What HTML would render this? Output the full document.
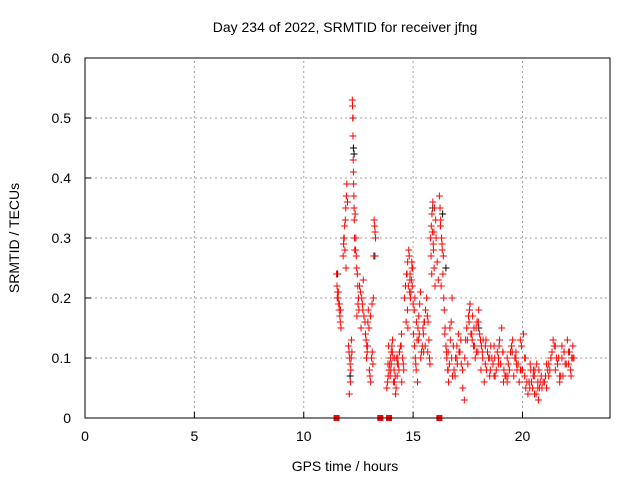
<!DOCTYPE html>
<html><head><meta charset="utf-8"><style>
body{margin:0;background:#fff}
svg{font-family:"Liberation Sans",sans-serif;font-size:14px}
</style></head><body>
<svg width="640" height="480" xmlns="http://www.w3.org/2000/svg">
<g id="grid"></g>
<g id="axes"></g>
<g id="black"></g>
<g id="red"></g>
<rect x="85" y="58" width="525" height="360" fill="none" stroke="#000"/>
<text x="345" y="32" text-anchor="middle">Day 234 of 2022, SRMTID for receiver jfng</text>
<text x="345" y="471" text-anchor="middle">GPS time / hours</text>
<text transform="translate(19,238) rotate(-90)" text-anchor="middle">SRMTID / TECUs</text>
</svg>
<script>
const xTicks=[0,5,10,15,20];
const yTicks=[0,0.1,0.2,0.3,0.4,0.5,0.6];
const yTickLabels=["0","0.1","0.2","0.3","0.4","0.5","0.6"];
const zeroTimes=[11.5,13.5,13.9,16.2];
const times=[
11.5,11.52,11.55,11.57,11.6,11.62,11.65,11.67,11.7,11.53,11.58,11.63,11.68,
11.8,11.82,11.85,11.87,11.9,11.92,11.95,11.97,12.0,11.83,11.88,11.93,
12.05,12.07,12.1,12.12,12.15,12.17,12.2,12.08,12.13,12.18,
12.22,12.23,12.24,12.25,12.26,12.27,12.28,12.29,12.3,12.31,12.32,12.33,
12.35,12.38,12.4,12.42,12.45,12.47,12.5,12.52,12.43,12.48,12.37,
12.55,12.6,12.65,12.7,12.75,12.8,12.62,12.68,12.72,
12.82,12.85,12.88,12.9,12.93,12.95,12.98,12.87,12.92,
13.0,13.03,13.06,13.1,13.13,13.16,13.05,13.12,13.18,
13.22,13.24,13.26,13.28,13.2,
13.8,13.83,13.86,13.9,13.93,13.96,14.0,14.03,14.06,14.1,14.13,14.16,14.2,
14.22,14.27,14.32,14.37,14.42,14.47,14.52,14.57,
14.6,14.65,14.7,14.75,14.8,14.85,14.9,14.95,15.0,14.68,
15.02,15.06,15.1,15.14,15.18,15.22,15.26,15.3,15.34,15.38,15.12,
15.42,15.47,15.52,15.57,15.62,15.67,15.72,15.77,
15.8,15.83,15.86,15.9,15.93,15.96,16.0,16.03,
16.2,16.23,16.26,16.3,16.33,16.36,16.4,16.28,
16.42,16.46,16.5,16.54,16.58,16.62,16.66,16.7,16.74,16.78,
16.8,16.87,16.94,17.0,17.07,17.14,17.2,17.27,17.34,17.4,
17.45,17.53,17.6,17.68,17.76,17.84,17.92,18.0,18.08,18.16,
18.25,18.35,18.45,18.55,18.65,18.75,18.85,18.95,19.05,19.15,
19.25,19.35,19.45,19.55,19.65,19.75,19.85,19.95,20.05,20.15,
20.25,20.33,20.41,20.49,20.57,20.65,20.73,20.81,20.89,
21.0,21.15,21.3,21.45,21.6,21.75,21.9,22.05,22.2,22.3,
17.5,17.7,17.9,18.1,18.3,18.5,18.7,18.9,19.1,19.3,19.5,19.7,19.9,20.1,20.3,20.5,20.7,21.1,21.3,21.5,21.7,21.9,22.1,22.25,
14.0,14.3,15.2,15.5,16.6,17.0,19.0,20.0,21.2,21.8,
13.85,13.95,14.05,14.15,14.25,14.35,14.45,14.55,13.88,13.98,14.08,14.18,14.28,14.38,14.48,
14.72,14.78,14.82,14.88,14.92,14.98,14.74,14.84,14.94,14.76,14.86,14.96,
15.05,15.15,15.25,15.35,15.45,15.55,15.65,15.75,15.08,15.28,15.48,15.68,
15.82,15.88,15.92,15.98,16.05,16.1,16.15,16.25,16.32,16.38,15.85,15.95,
16.45,16.52,16.6,16.68,16.76,16.84,16.92,17.02,17.1,17.18,17.26,17.36,
17.48,17.56,17.64,17.72,17.8,17.88,17.96,18.04,18.12,18.2,17.58,17.78,17.98,18.18,
18.3,18.4,18.5,18.6,18.7,18.8,18.9,19.0,19.1,19.2,18.33,18.53,18.73,18.93,19.13,
19.3,19.4,19.5,19.6,19.7,19.8,19.9,20.0,20.1,20.2,19.33,19.53,19.73,19.93,20.13,
20.3,20.38,20.46,20.54,20.62,20.7,20.78,20.86,20.94,20.35,20.55,20.75,
21.05,21.2,21.35,21.5,21.65,21.8,21.95,22.1,22.22,22.35,21.1,21.4,21.7,22.0,22.3,21.25,21.55,21.85,22.15
];
const srmtid=[
0.24,0.22,0.21,0.2,0.19,0.18,0.17,0.16,0.15,0.2,0.21,0.19,0.18,
0.27,0.29,0.3,0.32,0.33,0.35,0.37,0.39,0.36,0.3,0.28,0.25,
0.12,0.11,0.1,0.09,0.08,0.1,0.11,0.04,0.06,0.13,
0.53,0.52,0.5,0.47,0.43,0.41,0.39,0.37,0.35,0.33,0.3,0.28,
0.34,0.3,0.27,0.25,0.24,0.22,0.2,0.18,0.17,0.19,0.28,
0.22,0.21,0.2,0.18,0.17,0.16,0.15,0.19,0.23,
0.14,0.13,0.12,0.11,0.16,0.18,0.15,0.1,0.12,
0.08,0.07,0.06,0.1,0.11,0.09,0.17,0.19,0.2,
0.33,0.32,0.31,0.3,0.27,
0.05,0.06,0.07,0.08,0.09,0.1,0.11,0.12,0.13,0.06,0.08,0.1,0.04,
0.05,0.07,0.09,0.11,0.12,0.14,0.1,0.08,
0.2,0.22,0.24,0.26,0.28,0.23,0.21,0.25,0.19,0.16,
0.14,0.12,0.1,0.08,0.13,0.15,0.17,0.19,0.21,0.11,0.09,
0.12,0.14,0.16,0.18,0.2,0.11,0.13,0.09,
0.3,0.32,0.34,0.36,0.28,0.25,0.22,0.33,
0.37,0.35,0.33,0.3,0.28,0.24,0.2,0.22,
0.18,0.15,0.12,0.1,0.08,0.06,0.09,0.13,0.16,0.2,
0.07,0.08,0.1,0.12,0.14,0.11,0.09,0.05,0.03,0.13,
0.15,0.17,0.19,0.14,0.12,0.1,0.16,0.18,0.13,0.11,
0.06,0.08,0.1,0.12,0.09,0.07,0.11,0.13,0.15,0.08,
0.07,0.09,0.11,0.13,0.1,0.08,0.06,0.12,0.14,0.05,
0.04,0.05,0.06,0.07,0.08,0.09,0.03,0.06,0.05,
0.06,0.08,0.1,0.12,0.09,0.07,0.11,0.13,0.08,0.1,
0.09,0.13,0.11,0.08,0.12,0.1,0.07,0.09,0.11,0.06,0.12,0.1,0.08,0.07,0.06,0.08,0.05,0.09,0.1,0.12,0.07,0.11,0.09,0.1,
0.09,0.1,0.06,0.16,0.11,0.1,0.09,0.08,0.07,0.1,
0.09,0.07,0.11,0.06,0.1,0.08,0.12,0.09,0.12,0.08,0.1,0.07,0.09,0.11,0.06,
0.24,0.22,0.27,0.2,0.23,0.25,0.18,0.21,0.26,0.15,0.24,0.22,
0.18,0.16,0.13,0.1,0.15,0.12,0.17,0.1,0.2,0.14,0.11,0.16,
0.27,0.31,0.29,0.35,0.3,0.26,0.23,0.32,0.29,0.27,0.24,0.31,
0.14,0.11,0.08,0.15,0.1,0.12,0.07,0.09,0.11,0.13,0.08,0.1,
0.13,0.16,0.14,0.17,0.12,0.15,0.11,0.14,0.12,0.13,0.18,0.15,0.16,0.1,
0.09,0.11,0.07,0.1,0.12,0.08,0.1,0.09,0.11,0.07,0.13,0.08,0.1,0.12,0.06,
0.1,0.08,0.12,0.07,0.11,0.09,0.13,0.08,0.1,0.06,0.07,0.11,0.09,0.08,0.1,
0.06,0.08,0.05,0.07,0.04,0.06,0.05,0.07,0.06,0.09,0.04,0.08,
0.07,0.09,0.11,0.08,0.1,0.12,0.09,0.11,0.07,0.1,0.05,0.13,0.06,0.09,0.12,0.08,0.1,0.07,0.11
];
const blackTimes=[11.55,12.25,12.27,12.3,13.25,15.9,16.35,16.5,18.0,12.12];
const blackValues=[0.24,0.5,0.45,0.44,0.27,0.35,0.34,0.25,0.15,0.07];

const X0=85,X1=610,Y0=418,Y1=58;
const xs=t=>X0+t/24*(X1-X0);
const ys=v=>Y0-v/0.6*(Y0-Y1);
const NS="http://www.w3.org/2000/svg";
function mk(tag,attrs,parent){const e=document.createElementNS(NS,tag);for(const k in attrs)e.setAttribute(k,attrs[k]);parent.appendChild(e);return e;}
const grid=document.getElementById('grid'),axes=document.getElementById('axes');
xTicks.forEach(t=>{
  const x=xs(t);
  if(t>0){const g=mk('line',{x1:x,x2:x,y1:Y0,y2:Y1,stroke:'#a0a0a0','stroke-dasharray':'2,3'},grid);
  
  }
  const tk=mk('line',{x1:x,x2:x,y1:Y0,y2:Y0-6,stroke:'#000'},axes);
  
  
  const lb=mk('text',{x:x,y:Y0+23,'text-anchor':'middle'},axes);lb.textContent=t;
  
  
});
yTicks.forEach((v,i)=>{
  const y=ys(v);
  if(i>0&&i<yTicks.length-1){const g=mk('line',{x1:X0,x2:X1,y1:y,y2:y,stroke:'#a0a0a0','stroke-dasharray':'2,3'},grid);
  
  }
  const tk=mk('line',{x1:X0,x2:X0+6,y1:y,y2:y,stroke:'#000'},axes);
  
  
  const lb=mk('text',{x:X0-14,y:y+5,'text-anchor':'end'},axes);lb.textContent=yTickLabels[i];
  
  
});
function plus(g,t,v,c){
  const x=xs(t),y=ys(v);
  const p=mk('path',{d:`M${x-3.5},${y}h7M${x},${y-3.5}v7`,stroke:c,'stroke-width':1},g);
  
  
}
const bg=document.getElementById('black'),rg=document.getElementById('red');
blackTimes.forEach((t,i)=>plus(bg,t,blackValues[i],'#000'));
times.forEach((t,i)=>plus(rg,t,srmtid[i],'#f00'));
zeroTimes.forEach(t=>{
  const r=mk('rect',{x:xs(t)-3,y:Y0-3,width:6,height:6,fill:'#f00'},rg);
  
  
});
</script>
</body></html>
